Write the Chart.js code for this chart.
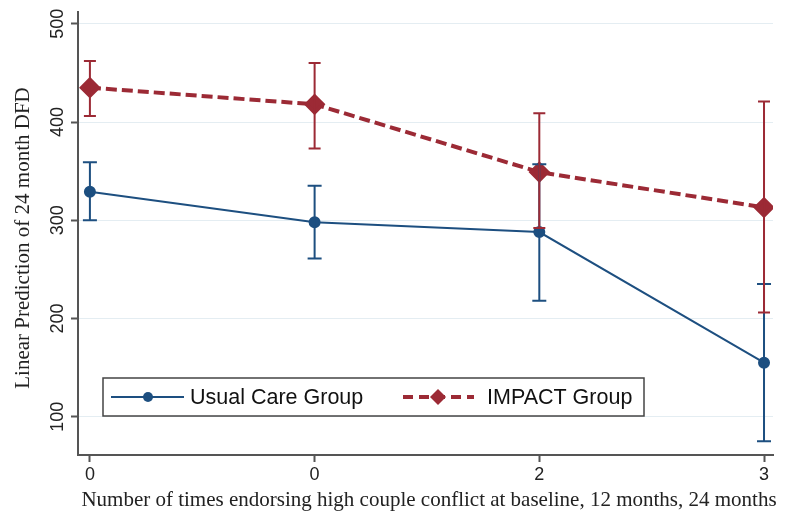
<!DOCTYPE html>
<html>
<head>
<meta charset="utf-8">
<script src="https://cdn.jsdelivr.net/npm/chart.js@4"></script>
<style>
  html, body { margin: 0; padding: 0; background: #fff; }
  #wrap { width: 785px; height: 521px; }
</style>
</head>
<body>
<div id="wrap"><canvas id="chart"></canvas></div>
<script>
// ---- data ----
const xPos = [0, 1, 2, 3];
const xLabels = ['0', '0', '2', '3'];
const yTicks = [100, 200, 300, 400, 500];

const usualMean = [329, 298, 288, 155];
const usualLow  = [300, 261, 218, 75];
const usualHigh = [359, 335, 357, 235];

const impactMean = [435, 418, 349, 313];
const impactLow  = [406, 373, 292, 206];
const impactHigh = [462, 460, 409, 421];

const BLUE = '#1d4f80';
const RED = '#9c2a35';
const AXIS = '#555';
const SANS = '"Liberation Sans", Arial, sans-serif';
const SERIF = '"Liberation Serif", "Times New Roman", serif';

const toPoints = (vals) => vals.map((v, i) => ({ x: xPos[i], y: v }));

// error bars with caps, drawn through the chart's scales
const errorBars = {
    id: 'errorBars',
    afterDatasetsDraw(chart) {
        const { ctx, scales: { x, y } } = chart;
        const sets = [
            { lo: usualLow, hi: usualHigh, color: BLUE, cap: 7 },
            { lo: impactLow, hi: impactHigh, color: RED, cap: 6 }
        ];
        ctx.save();
        ctx.lineWidth = 2;
        sets.forEach(s => {
            ctx.strokeStyle = s.color;
            xPos.forEach((xv, i) => {
                const px = x.getPixelForValue(xv);
                const p1 = y.getPixelForValue(s.lo[i]);
                const p2 = y.getPixelForValue(s.hi[i]);
                ctx.beginPath();
                ctx.moveTo(px, p1); ctx.lineTo(px, p2);
                ctx.moveTo(px - s.cap, p1); ctx.lineTo(px + s.cap, p1);
                ctx.moveTo(px - s.cap, p2); ctx.lineTo(px + s.cap, p2);
                ctx.stroke();
            });
        });
        ctx.restore();
    }
};

// rotated y tick labels, axis titles and the boxed legend
const decorations = {
    id: 'decorations',
    afterDraw(chart) {
        const { ctx, scales: { y } } = chart;
        ctx.save();
        ctx.fillStyle = '#222';
        ctx.font = '18px ' + SANS;
        ctx.textAlign = 'center';
        ctx.textBaseline = 'middle';
        yTicks.forEach(t => {
            const py = y.getPixelForValue(t);
            ctx.save();
            ctx.translate(58, py);
            ctx.rotate(-Math.PI / 2);
            ctx.fillText(String(t), 0, 0);
            ctx.restore();
        });

        // axis titles
        ctx.fillStyle = '#222';
        ctx.font = '21px ' + SERIF;
        ctx.save();
        ctx.translate(23, 238);
        ctx.rotate(-Math.PI / 2);
        ctx.fillText('Linear Prediction of 24 month DFD', 0, 0);
        ctx.restore();
        ctx.fillText('Number of times endorsing high couple conflict at baseline, 12 months, 24 months', 429, 500);

        // legend
        ctx.fillStyle = '#fff';
        ctx.fillRect(103, 378, 541, 38);
        ctx.strokeStyle = '#444';
        ctx.lineWidth = 1.5;
        ctx.strokeRect(103, 378, 541, 38);

        ctx.strokeStyle = BLUE;
        ctx.lineWidth = 2;
        ctx.beginPath(); ctx.moveTo(111, 397); ctx.lineTo(184, 397); ctx.stroke();
        ctx.fillStyle = BLUE;
        ctx.beginPath(); ctx.arc(148, 397, 5, 0, Math.PI * 2); ctx.fill();

        ctx.strokeStyle = RED;
        ctx.lineWidth = 4;
        ctx.setLineDash([10, 6]);
        ctx.beginPath(); ctx.moveTo(403, 397); ctx.lineTo(474, 397); ctx.stroke();
        ctx.setLineDash([]);
        ctx.fillStyle = RED;
        ctx.beginPath();
        ctx.moveTo(438, 389); ctx.lineTo(446, 397); ctx.lineTo(438, 405); ctx.lineTo(430, 397);
        ctx.closePath(); ctx.fill();

        ctx.fillStyle = '#111';
        ctx.font = '21.5px ' + SANS;
        ctx.textAlign = 'left';
        ctx.fillText('Usual Care Group', 190, 398);
        ctx.fillText('IMPACT Group', 487, 398);
        ctx.restore();
    }
};

new Chart(document.getElementById('chart'), {
    type: 'line',
    data: {
        datasets: [{
            label: 'IMPACT Group',
            data: toPoints(impactMean),
            borderColor: RED,
            backgroundColor: RED,
            borderWidth: 4,
            borderDash: [11, 5],
            pointStyle: 'rectRot',
            pointRadius: 8,
            pointHoverRadius: 8,
            order: 1
        }, {
            label: 'Usual Care Group',
            data: toPoints(usualMean),
            borderColor: BLUE,
            backgroundColor: BLUE,
            borderWidth: 2,
            pointStyle: 'circle',
            pointRadius: 5,
            pointHoverRadius: 5,
            order: 2
        }]
    },
    options: {
        responsive: true,
        maintainAspectRatio: false,
        animation: false,
        layout: { padding: { top: 12, right: 8, left: 0, bottom: 0 } },
        plugins: { legend: { display: false }, tooltip: { enabled: false } },
        scales: {
            x: {
                type: 'linear',
                min: -0.053,
                max: 3.04,
                afterBuildTicks: (s) => { s.ticks = xPos.map(v => ({ value: v })); },
                afterFit: (s) => { s.height = 66; },
                ticks: {
                    callback: (v) => xLabels[xPos.indexOf(v)],
                    color: '#222',
                    font: { family: SANS, size: 18 },
                    padding: 2,
                    maxRotation: 0
                },
                grid: { color: 'transparent', tickColor: AXIS, tickLength: 7, tickWidth: 2 },
                border: { display: true, color: AXIS, width: 2 }
            },
            y: {
                min: 61,
                max: 512,
                afterBuildTicks: (s) => { s.ticks = yTicks.map(v => ({ value: v })); },
                afterFit: (s) => { s.width = 78; },
                ticks: { display: false },
                grid: { color: '#e4edf2', lineWidth: 1, tickColor: AXIS, tickLength: 7, tickWidth: 2 },
                border: { display: true, color: AXIS, width: 2 }
            }
        }
    },
    plugins: [errorBars, decorations]
});
</script>
</body>
</html>
